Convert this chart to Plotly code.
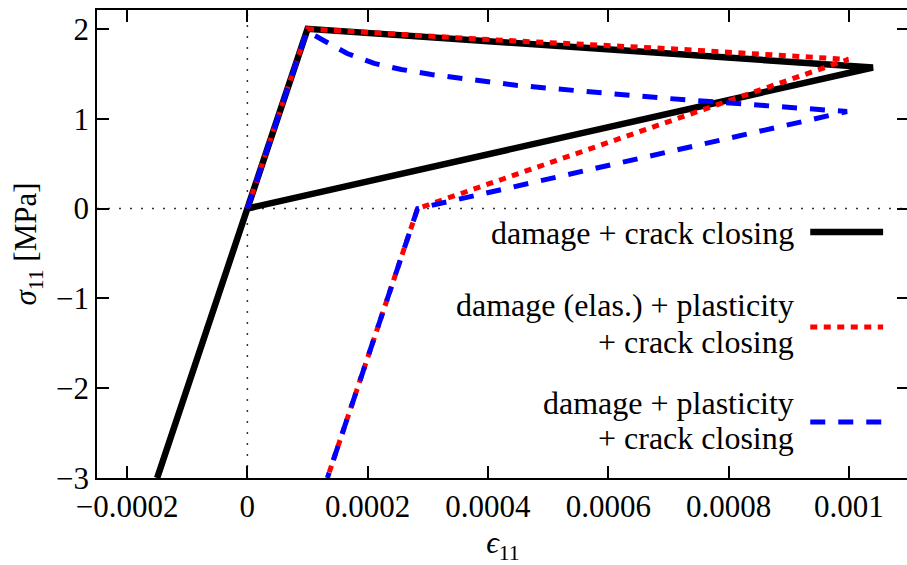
import plotly.graph_objects as go

# Strain / stress histories for the three constitutive models
eps_damage = [0.0, 0.0001, 0.00104, 0.0, -0.00015]
sig_damage = [0.0, 2.0, 1.57, 0.0, -3.0]

eps_elas_plast = [0.0, 0.0001, 0.000389, 0.0007, 0.000999, 0.000283, 0.000133]
sig_elas_plast = [0.0, 2.0, 1.885, 1.78, 1.66, 0.0, -3.0]

eps_plast = [0.0, 0.0000985, 0.000115, 0.000166, 0.000211, 0.000256, 0.000306,
             0.000355, 0.000399, 0.000447, 0.000496, 0.000543, 0.000589,
             0.000637, 0.000687, 0.000734, 0.00078, 0.000828, 0.000875,
             0.000924, 0.000971, 0.000997, 0.000283, 0.000133]
sig_plast = [0.0, 1.97, 1.915, 1.726, 1.615, 1.548, 1.492,
             1.448, 1.405, 1.372, 1.342, 1.312, 1.285,
             1.258, 1.232, 1.207, 1.185, 1.163, 1.143,
             1.122, 1.102, 1.08, 0.0, -3.0]

x_tickvals = [-0.0002, 0.0, 0.0002, 0.0004, 0.0006, 0.0008, 0.001]
x_ticktext = ["\u22120.0002", "0", "0.0002", "0.0004", "0.0006", "0.0008", "0.001"]
y_tickvals = [-3, -2, -1, 0, 1, 2]
y_ticktext = ["\u22123", "\u22122", "\u22121", "0", "1", "2"]

legend_labels = [
    ["damage + crack closing"],
    ["damage (elas.) + plasticity", "+ crack closing"],
    ["damage + plasticity", "+ crack closing"],
]

FONT = "Liberation Serif"
FS = 31
FS_KEY = 32

styles = [
    dict(color="#000000", width=6.5, dash="solid"),
    dict(color="#ff0000", width=5, dash="7px,6.5px"),
    dict(color="#0000ff", width=5, dash="15px,13px"),
]

fig = go.Figure()
for (xs, ys), st, lines in zip(
    [(eps_damage, sig_damage), (eps_elas_plast, sig_elas_plast), (eps_plast, sig_plast)],
    styles, legend_labels,
):
    fig.add_trace(go.Scatter(x=xs, y=ys, mode="lines", line=st, name=" ".join(lines),
                             showlegend=False, hoverinfo="skip"))

# dotted zero axes
fig.add_shape(type="line", xref="x", yref="paper", x0=0, x1=0, y0=0, y1=1,
              line=dict(color="#333333", width=1.5, dash="2px,9px"), layer="below")
fig.add_shape(type="line", xref="paper", yref="y", x0=0, x1=1, y0=0, y1=0,
              line=dict(color="#333333", width=1.5, dash="2px,9px"), layer="below")

# key: right-aligned labels (one annotation per text line) with line samples to their right
key_text_y = [[0.5235], [0.3697, 0.2906], [0.1603, 0.0855]]
key_line_y = [0.5256, 0.3226, 0.1197]
for lines, tys, ly, st in zip(legend_labels, key_text_y, key_line_y, styles):
    for txt, ty in zip(lines, tys):
        fig.add_annotation(x=0.8612, y=ty, xref="paper", yref="paper", text=txt,
                           showarrow=False, xanchor="right", yanchor="middle",
                           align="right",
                           font=dict(family=FONT, size=FS_KEY, color="black"))
    fig.add_shape(type="line", xref="paper", yref="paper", x0=0.8784, x1=0.9681,
                  y0=ly, y1=ly, line=st)

axis_common = dict(
    showline=True, linecolor="black", linewidth=1.5, mirror="ticks",
    ticks="inside", ticklen=12, tickwidth=1.5, tickcolor="black",
    showgrid=False, zeroline=False,
    tickfont=dict(family=FONT, size=FS, color="black"),
)

fig.update_layout(
    width=912, height=565,
    margin=dict(l=97, r=1, t=10, b=87),
    paper_bgcolor="white", plot_bgcolor="white",
    font=dict(family=FONT, size=FS, color="black"),
    xaxis=dict(range=[-0.00025, 0.0011], tickmode="array",
               tickvals=x_tickvals, ticktext=x_ticktext,
               title=dict(text="<i>\u03f5</i><sub>11</sub>",
                          font=dict(family=FONT, size=FS, color="black"), standoff=12),
               **axis_common),
    yaxis=dict(range=[-3, 2.21], tickmode="array",
               tickvals=y_tickvals, ticktext=y_ticktext,
               title=dict(text="<i>\u03c3</i><sub>11</sub> [MPa]",
                          font=dict(family=FONT, size=FS, color="black"), standoff=10),
               **axis_common),
)

fig.write_html("out.html")
